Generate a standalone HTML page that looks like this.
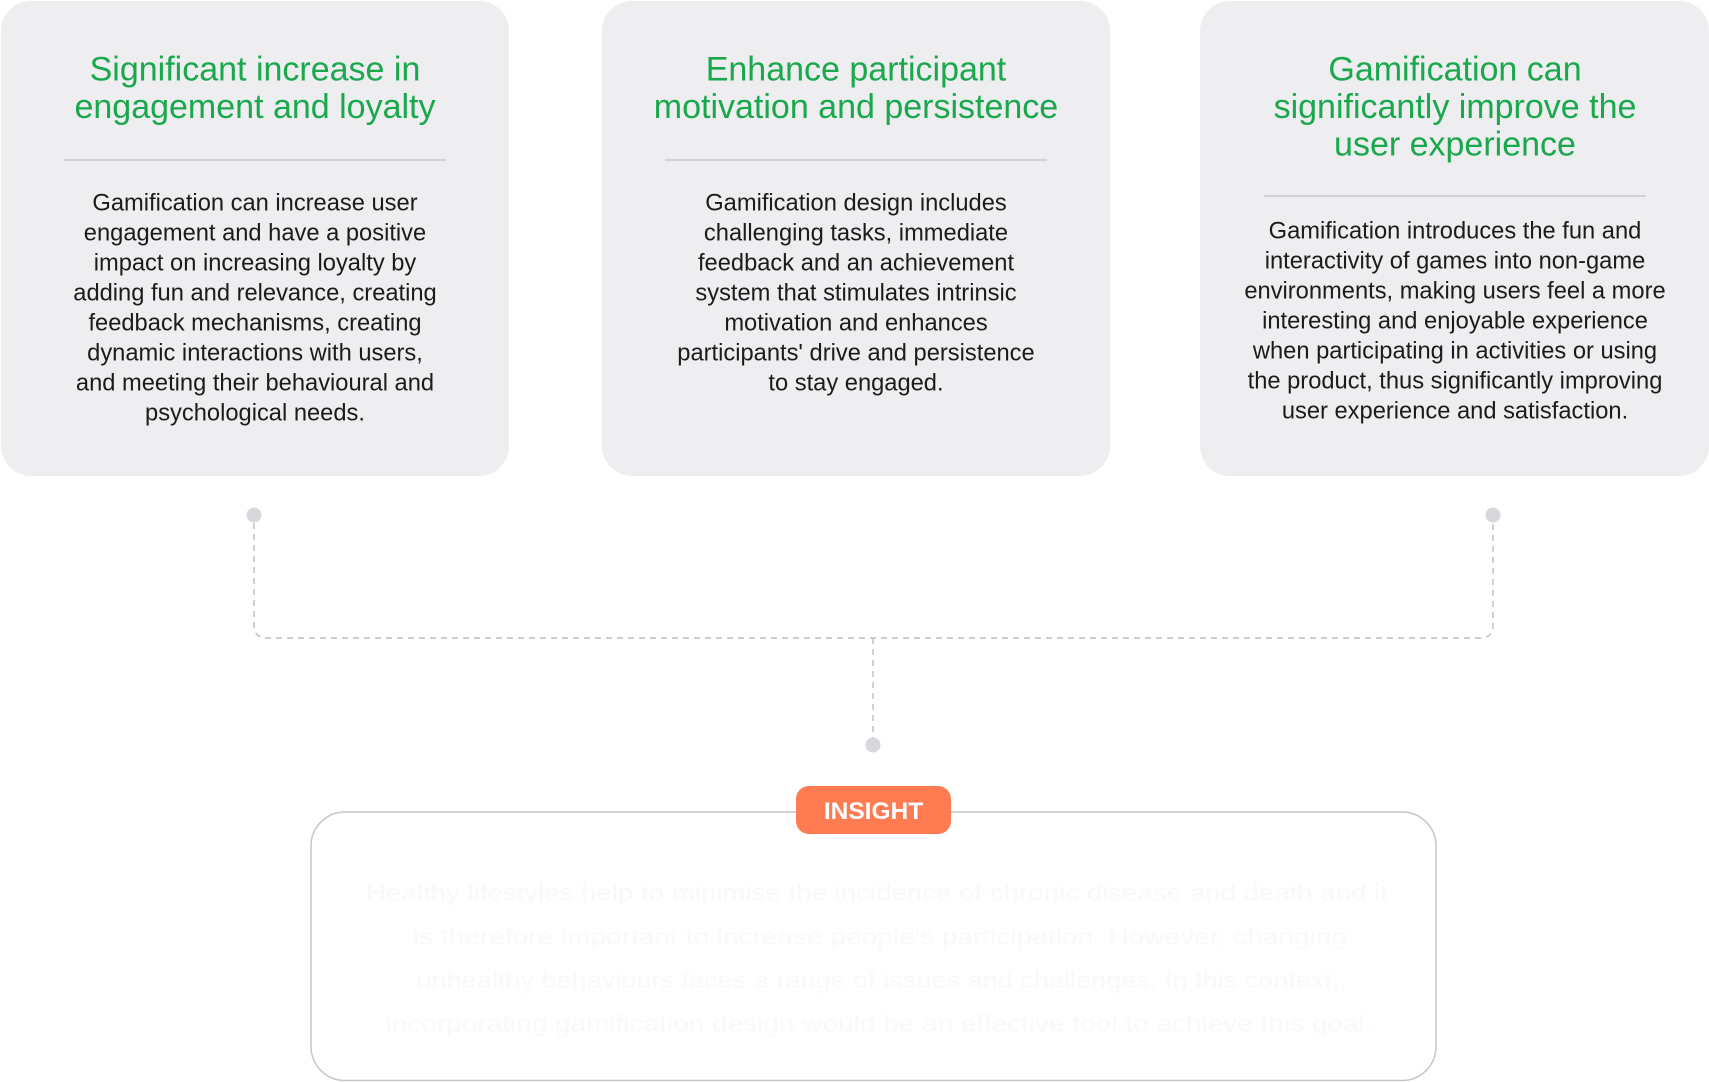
<!DOCTYPE html>
<html>
<head>
<meta charset="utf-8">
<style>
  html, body { margin: 0; padding: 0; background: #ffffff; }
  body { width: 1709px; height: 1082px; overflow: hidden; }
  svg { display: block; }
  .t { font-family: "Liberation Sans", Arial, sans-serif; }
</style>
</head>
<body>
<svg width="1709" height="1082" viewBox="0 0 1709 1082" xmlns="http://www.w3.org/2000/svg">
  <!-- Cards -->
  <rect x="1" y="1" width="508" height="475" rx="30" ry="30" fill="#eeedf0"/>
  <rect x="602" y="1" width="508" height="475" rx="30" ry="30" fill="#eeedf0"/>
  <rect x="1200" y="1" width="509" height="475" rx="30" ry="30" fill="#eeedf0"/>

  <!-- Card 1 -->
  <g class="t" font-size="34" fill="#19a84c" text-anchor="middle">
    <text x="255" y="80.5">Significant increase in</text>
    <text x="255" y="118">engagement and loyalty</text>
  </g>
  <line x1="64" y1="160" x2="446" y2="160" stroke="#c9c7cb" stroke-width="1.5"/>
  <g class="t" font-size="23.7" fill="#1b1b1b" text-anchor="middle">
    <text x="255" y="210.7">Gamification can increase user</text>
    <text x="255" y="240.7">engagement and have a positive</text>
    <text x="255" y="270.7">impact on increasing loyalty by</text>
    <text x="255" y="300.7">adding fun and relevance, creating</text>
    <text x="255" y="330.7">feedback mechanisms, creating</text>
    <text x="255" y="360.7">dynamic interactions with users,</text>
    <text x="255" y="390.7">and meeting their behavioural and</text>
    <text x="255" y="420.7">psychological needs.</text>
  </g>

  <!-- Card 2 -->
  <g class="t" font-size="34" fill="#19a84c" text-anchor="middle">
    <text x="856" y="80.5">Enhance participant</text>
    <text x="856" y="118">motivation and persistence</text>
  </g>
  <line x1="665" y1="160" x2="1047" y2="160" stroke="#c9c7cb" stroke-width="1.5"/>
  <g class="t" font-size="23.7" fill="#1b1b1b" text-anchor="middle">
    <text x="856" y="210.7">Gamification design includes</text>
    <text x="856" y="240.7">challenging tasks, immediate</text>
    <text x="856" y="270.7">feedback and an achievement</text>
    <text x="856" y="300.7">system that stimulates intrinsic</text>
    <text x="856" y="330.7">motivation and enhances</text>
    <text x="856" y="360.7">participants' drive and persistence</text>
    <text x="856" y="390.7">to stay engaged.</text>
  </g>

  <!-- Card 3 -->
  <g class="t" font-size="34" fill="#19a84c" text-anchor="middle">
    <text x="1455" y="80.5">Gamification can</text>
    <text x="1455" y="118">significantly improve the</text>
    <text x="1455" y="155.5">user experience</text>
  </g>
  <line x1="1264" y1="196" x2="1646" y2="196" stroke="#c9c7cb" stroke-width="1.5"/>
  <g class="t" font-size="23.7" fill="#1b1b1b" text-anchor="middle">
    <text x="1455" y="238.3">Gamification introduces the fun and</text>
    <text x="1455" y="268.3">interactivity of games into non-game</text>
    <text x="1455" y="298.3">environments, making users feel a more</text>
    <text x="1455" y="328.3">interesting and enjoyable experience</text>
    <text x="1455" y="358.3">when participating in activities or using</text>
    <text x="1455" y="388.3">the product, thus significantly improving</text>
    <text x="1455" y="418.3">user experience and satisfaction.</text>
  </g>

  <!-- Connectors -->
  <path d="M254 523 V625 Q254 638 267 638 H1480 Q1493 638 1493 625 V523" fill="none" stroke="#bdbdbd" stroke-width="1.4" stroke-dasharray="6 5"/>
  <path d="M873 638 V738" fill="none" stroke="#bdbdbd" stroke-width="1.4" stroke-dasharray="6 5"/>
  <circle cx="254" cy="515" r="7.5" fill="#d8d7db"/>
  <circle cx="1493" cy="515" r="7.5" fill="#d8d7db"/>
  <circle cx="873" cy="745" r="7.5" fill="#d8d7db"/>

  <!-- Insight box -->
  <rect x="311" y="812" width="1125" height="268.5" rx="34" ry="34" fill="#ffffff" stroke="#c6c6c6" stroke-width="1.5"/>
  <g class="t" font-size="23" fill="#f9f9f9" text-anchor="middle">
    <text x="877" y="900.6" textLength="1022" lengthAdjust="spacingAndGlyphs">Healthy lifestyles help to minimise the incidence of chronic disease and death and it</text>
    <text x="880" y="944.3" textLength="934" lengthAdjust="spacingAndGlyphs">is therefore important to increase people's participation. However, changing</text>
    <text x="878" y="988" textLength="923" lengthAdjust="spacingAndGlyphs">unhealthy behaviours faces a range of issues and challenges. In this context,</text>
    <text x="879" y="1031.7" textLength="987" lengthAdjust="spacingAndGlyphs">incorporating gamification design would be an effective tool to achieve this goal.</text>
  </g>

  <!-- INSIGHT pill -->
  <rect x="796" y="786" width="155" height="48" rx="13" ry="13" fill="#ff7b51"/>
  <text class="t" x="873.5" y="818.8" font-size="24.5" font-weight="bold" fill="#ffffff" text-anchor="middle">INSIGHT</text>
</svg>
</body>
</html>
